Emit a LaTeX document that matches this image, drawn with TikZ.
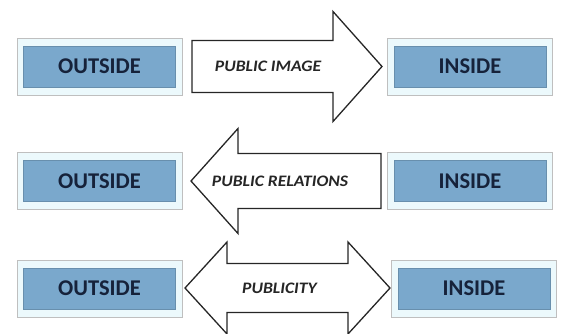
\documentclass[tikz,border=0pt]{standalone}
\usepackage{fontspec}
\setmainfont{Carlito}
\definecolor{boxblue}{RGB}{122,168,204}
\definecolor{boxtext}{RGB}{22,34,58}
\definecolor{rimcyan}{RGB}{236,249,252}

\begin{document}
\begin{tikzpicture}[x=1pt, y=-1pt]
        \tikzstyle{frame}=[
            draw=gray!50, line width=0.8pt, fill=rimcyan,
            minimum width=165pt, minimum height=57pt, inner sep=0pt
        ]
        \tikzstyle{side}=[
            fill=boxblue, draw=boxblue!85!black, line width=0.4pt,
            minimum width=152pt, minimum height=41pt, inner sep=0pt,
            text=boxtext, font=\fontsize{22.5}{22.5}\selectfont\bfseries
        ]
        \tikzstyle{block}=[draw=black!85, line width=1.3pt, fill=white,
            line join=miter]
        \tikzstyle{annot}=[text=black!85,
            font=\fontsize{16}{16}\selectfont\bfseries\itshape
                \addfontfeature{FakeStretch=1.1}]

        \useasboundingbox (0,0) rectangle (564,333);
        \clip (0,0) rectangle (564,333);

        % Draw the outside and inside boxes of every row
        \foreach \id / \y / \xin in {1/66.5/470, 2/181/470, 3/288.5/474} {
            \node[frame] (OF-\id) at (99.5,\y) {};
            \node[side] (O-\id) at (OF-\id.center) {OUTSIDE};
            \node[frame] (IF-\id) at (\xin,\y) {};
            \node[side] (I-\id) at (IF-\id.center) {INSIDE};
        }

        % Public image: outside to inside
        \draw[block] (192,40.5) -- (333,40.5) -- (333,11.5) -- (382,66.5)
            -- (333,121.5) -- (333,92.5) -- (192,92.5) -- cycle;
        \node[annot] (pi) at (268,66.5) {PUBLIC IMAGE};

        % Public relations: inside to outside
        \draw[block] (381,153.5) -- (238,153.5) -- (238,128.5) -- (191,181)
            -- (238,233.5) -- (238,208.5) -- (381,208.5) -- cycle;
        \node[annot] (pr) at (280,181) {PUBLIC RELATIONS};

        % Publicity: both ways
        \draw[block] (227,263.5) -- (348,263.5) -- (348,242) -- (390,288)
            -- (348,334) -- (348,312.5) -- (227,312.5) -- (227,334)
            -- (185,288) -- (227,242) -- cycle;
        \node[annot] (pu) at (279.5,288) {PUBLICITY};
    \end{tikzpicture}
\end{document}
